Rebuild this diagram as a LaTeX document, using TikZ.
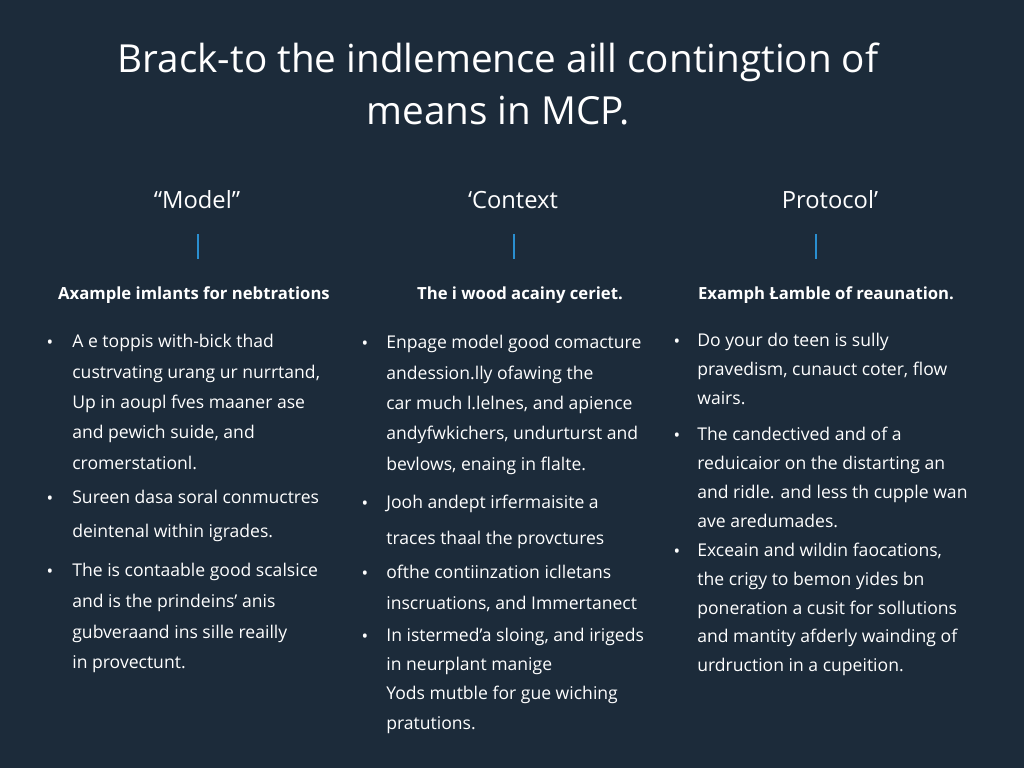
\documentclass[tikz,border=0pt]{standalone}
\usepackage{fontspec}
\setmainfont{Open Sans}
\usetikzlibrary{positioning}
\definecolor{bgnavy}{HTML}{1C2B3A}
\definecolor{barblue}{HTML}{2A8FD0}
\tikzset{
  titletext/.style={text=white, font=\fontsize{22}{30}\selectfont, align=center},
  headtext/.style={text=white, font=\fontsize{13.5}{16}\selectfont},
  subtext/.style={text=white, font=\bfseries\fontsize{9.5}{12}\selectfont},
  itemtext/.style={text=white, font=\fontsize{10}{#1}\selectfont, align=left, anchor=north west, inner sep=0pt, yshift=8pt},
  dottext/.style={text=white, font=\fontsize{10}{12}\selectfont, anchor=base, inner sep=0pt},
  markbar/.style={barblue, line width=1.6pt}
}
\begin{document}
\begin{tikzpicture}[x=0.02cm,y=-0.02cm]

% Background
\fill[bgnavy] (0,0) rectangle (1024,768);

% Title
\node[titletext] (title) at (498,84) {Brack-to the indlemence aill contingtion of\\means in MCP.};

% Column heads
\node[headtext] (model) at (197,200) {“Model”};
\node[headtext] (context) at (513,200) {‘Context};
\node[headtext] (protocol) at (830,200) {Protocol’};
\draw[markbar] (198,234) -- (198,259);
\draw[markbar] (514,234) -- (514,259);
\draw[markbar] (816,234) -- (816,259);

\node[subtext] (subA) at (194,295) {Axample imlants for nebtrations};
\node[subtext] (subB) at (520,295) {The i wood acainy ceriet.};
\node[subtext] (subC) at (826,295) {Examph Łamble of reaunation.};

% Column 1
\node[dottext] (dA1) at (50,348) {•};
\node[itemtext=17.3pt] (itA1) at (72,348) {A e toppis with-bick thad\\custrvating urang ur nurrtand,\\Up in aoupl fves maaner ase\\and pewich suide, and\\cromerstationl.};
\node[dottext] (dA2) at (50,504) {•};
\node[itemtext=19.5pt] (itA2) at (72,504) {Sureen dasa soral conmuctres\\deintenal within igrades.};
\node[dottext] (dA3) at (50,577) {•};
\node[itemtext=17.5pt] (itA3) at (72,577) {The is contaable good scalsice\\and is the prindeins' anis\\gubveraand ins sille reailly\\in provectunt.};

% Column 2
\node[dottext] (dB1) at (365,349) {•};
\node[itemtext=17.3pt] (itB1) at (386,349) {Enpage model good comacture\\andession.lly ofawing the\\car much l.lelnes, and apience\\andyfwkichers, undurturst and\\bevlows, enaing in flalte.};
\node[dottext] (dB2) at (365,509) {•};
\node[itemtext=20.5pt] (itB2) at (386,509) {Jooh andept irfermaisite a\\traces thaal the provctures};
\node[dottext] (dB3) at (365,579) {•};
\node[itemtext=17.6pt] (itB3) at (386,579) {ofthe contiinzation iclletans\\inscruations, and Immertanect};
\node[dottext] (dB4) at (365,642) {•};
\node[itemtext=16.6pt] (itB4) at (386,642) {In istermed'a sloing, and irigeds\\in neurplant manige\\Yods mutble for gue wiching\\pratutions.};

% Column 3
\node[dottext] (dC1) at (677,347) {•};
\node[itemtext=16.5pt] (itC1) at (697,347) {Do your do teen is sully\\pravedism, cunauct coter, flow\\wairs.};
\node[dottext] (dC2) at (677,441) {•};
\node[itemtext=16.4pt] (itC2) at (697,441) {The candectived and of a\\reduicaior on the distarting an\\and ridle. and less th cupple wan\\ave aredumades.};
\node[dottext] (dC3) at (677,557) {•};
\node[itemtext=16.3pt] (itC3) at (697,557) {Exceain and wildin faocations,\\the crigy to bemon yides bn\\poneration a cusit for sollutions\\and mantity afderly wainding of\\urdruction in a cupeition.};

\end{tikzpicture}
\end{document}
